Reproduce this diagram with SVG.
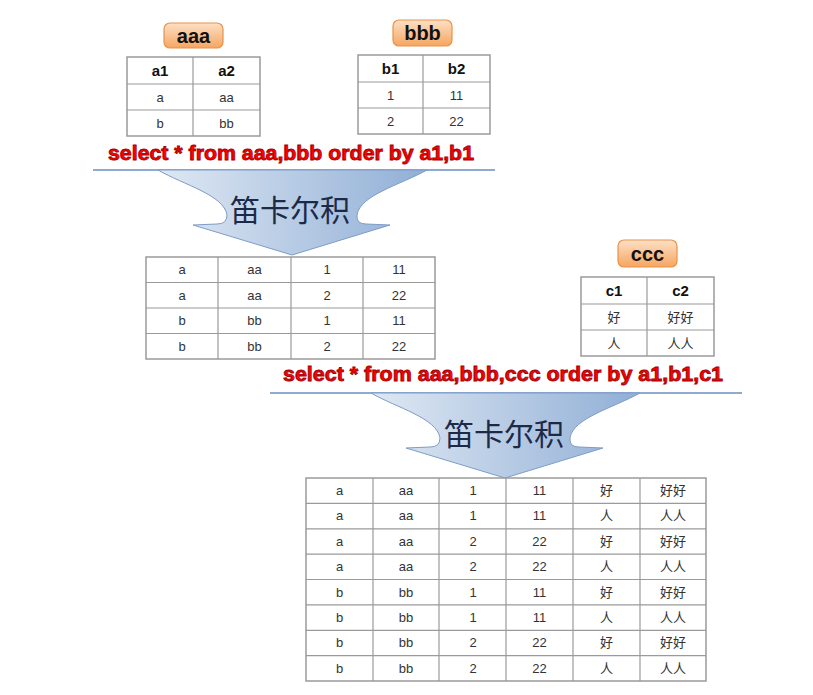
<svg xmlns="http://www.w3.org/2000/svg" width="813" height="695" viewBox="0 0 813 695">
<style>
.tb{fill:#fff;stroke:#9a9a9a;stroke-width:1.5}
.gl{stroke:#9a9a9a;stroke-width:1.2}
.h{font-family:"Liberation Sans",Arial,sans-serif;font-weight:bold;font-size:15px;fill:#111;text-anchor:middle}
.d{font-family:"Liberation Sans",Arial,"Noto Sans CJK SC",sans-serif;font-size:13px;fill:#333;text-anchor:middle}
.lb{fill:url(#og);stroke:#e8924a;stroke-width:1.2}
.lt{font-family:"Liberation Sans",Arial,sans-serif;font-weight:bold;font-size:20px;fill:#111;text-anchor:middle}
.q{font-family:"Liberation Sans",Arial,sans-serif;font-weight:bold;font-size:20px;fill:#ff0000;stroke:#a00000;stroke-width:0.8}
.ln{stroke:#8eaad0;stroke-width:2}
.ar{fill:url(#bg);stroke:#7e9cc6;stroke-width:1}
.ct{font-family:"Noto Sans CJK SC",sans-serif;font-size:30px;fill:#1c2a48;text-anchor:middle}
</style>
<defs>
<linearGradient id="og" x1="0" y1="0" x2="0" y2="1">
<stop offset="0" stop-color="#fde0c6"/><stop offset="1" stop-color="#f6a660"/>
</linearGradient>
<linearGradient id="bg" x1="0" y1="0" x2="1" y2="0">
<stop offset="0" stop-color="#dfe8f3"/><stop offset="1" stop-color="#90afd6"/>
</linearGradient>
<path id="arrow" d="M-134,0 L135,0 C108,15 68,25 65,45 Q64,54 74,54 L98,55 L0,85 L-99,55 L-75,54 Q-65,54 -65,45 C-68,25 -108,15 -134,0 Z"/>
</defs>

<g id="label-aaa"><rect class="lb" x="164" y="23" width="59" height="25" rx="6"/><text class="lt" x="193.5" y="43">aaa</text></g>
<g id="label-bbb"><rect class="lb" x="393" y="20" width="59" height="26" rx="6"/><text class="lt" x="422.5" y="40">bbb</text></g>
<g id="label-ccc"><rect class="lb" x="618" y="240" width="59" height="27" rx="6"/><text class="lt" x="647.5" y="261">ccc</text></g>

<g id="table-aaa">
<rect class="tb" x="127" y="57" width="133" height="79"/>
<line class="gl" x1="193" y1="57" x2="193" y2="136"/>
<line class="gl" x1="127" y1="84" x2="260" y2="84"/>
<line class="gl" x1="127" y1="110" x2="260" y2="110"/>
<text class="h" x="160" y="76">a1</text><text class="h" x="226.5" y="76">a2</text>
<text class="d" x="160" y="101.5">a</text><text class="d" x="226.5" y="101.5">aa</text>
<text class="d" x="160" y="127.5">b</text><text class="d" x="226.5" y="127.5">bb</text>
</g>

<g id="table-bbb">
<rect class="tb" x="358" y="55" width="132" height="79"/>
<line class="gl" x1="423" y1="55" x2="423" y2="134"/>
<line class="gl" x1="358" y1="82" x2="490" y2="82"/>
<line class="gl" x1="358" y1="108" x2="490" y2="108"/>
<text class="h" x="390.5" y="74">b1</text><text class="h" x="456.5" y="74">b2</text>
<text class="d" x="390.5" y="99.5">1</text><text class="d" x="456.5" y="99.5">11</text>
<text class="d" x="390.5" y="125.5">2</text><text class="d" x="456.5" y="125.5">22</text>
</g>

<g id="query-1"><text class="q" x="108" y="160" textLength="366" lengthAdjust="spacingAndGlyphs">select * from aaa,bbb order by a1,b1</text></g>

<g id="table-ccc">
<rect class="tb" x="581" y="277" width="133" height="79"/>
<line class="gl" x1="647" y1="277" x2="647" y2="356"/>
<line class="gl" x1="581" y1="304" x2="714" y2="304"/>
<line class="gl" x1="581" y1="330" x2="714" y2="330"/>
<text class="h" x="614" y="296">c1</text><text class="h" x="680.5" y="296">c2</text>
<text class="d" x="614" y="321.5">好</text><text class="d" x="680.5" y="321.5">好好</text>
<text class="d" x="614" y="347.5">人</text><text class="d" x="680.5" y="347.5">人人</text>
</g>

<g id="query-2"><text class="q" x="283" y="381" textLength="440" lengthAdjust="spacingAndGlyphs">select * from aaa,bbb,ccc order by a1,b1,c1</text></g>

<g id="connectors">
<line class="ln" x1="93" y1="170" x2="495" y2="170"/>
<use href="#arrow" class="ar" transform="translate(292,170)"/>
<line class="ln" x1="270" y1="393" x2="742" y2="393"/>
<use href="#arrow" class="ar" transform="translate(505,393)"/>
</g>
<g id="cartesian-1"><text class="ct" x="290" y="221">笛卡尔积</text></g>
<g id="cartesian-2"><text class="ct" x="504" y="445">笛卡尔积</text></g>

<g id="table-ab">
<rect class="tb" x="146" y="257" width="289" height="102"/>
<line class="gl" x1="218" y1="257" x2="218" y2="359"/>
<line class="gl" x1="291" y1="257" x2="291" y2="359"/>
<line class="gl" x1="363" y1="257" x2="363" y2="359"/>
<line class="gl" x1="146" y1="282.5" x2="435" y2="282.5"/>
<line class="gl" x1="146" y1="308" x2="435" y2="308"/>
<line class="gl" x1="146" y1="333.5" x2="435" y2="333.5"/>
<text class="d" x="182" y="274">a</text><text class="d" x="254.5" y="274">aa</text><text class="d" x="327" y="274">1</text><text class="d" x="399" y="274">11</text>
<text class="d" x="182" y="299.5">a</text><text class="d" x="254.5" y="299.5">aa</text><text class="d" x="327" y="299.5">2</text><text class="d" x="399" y="299.5">22</text>
<text class="d" x="182" y="325">b</text><text class="d" x="254.5" y="325">bb</text><text class="d" x="327" y="325">1</text><text class="d" x="399" y="325">11</text>
<text class="d" x="182" y="350.5">b</text><text class="d" x="254.5" y="350.5">bb</text><text class="d" x="327" y="350.5">2</text><text class="d" x="399" y="350.5">22</text>
</g>

<g id="table-abc">
<rect class="tb" x="306" y="478" width="400" height="203"/>
<line class="gl" x1="373" y1="478" x2="373" y2="681"/>
<line class="gl" x1="439" y1="478" x2="439" y2="681"/>
<line class="gl" x1="506" y1="478" x2="506" y2="681"/>
<line class="gl" x1="573" y1="478" x2="573" y2="681"/>
<line class="gl" x1="640" y1="478" x2="640" y2="681"/>
<line class="gl" x1="306" y1="503.4" x2="706" y2="503.4"/>
<line class="gl" x1="306" y1="528.8" x2="706" y2="528.8"/>
<line class="gl" x1="306" y1="554.1" x2="706" y2="554.1"/>
<line class="gl" x1="306" y1="579.5" x2="706" y2="579.5"/>
<line class="gl" x1="306" y1="604.9" x2="706" y2="604.9"/>
<line class="gl" x1="306" y1="630.3" x2="706" y2="630.3"/>
<line class="gl" x1="306" y1="655.6" x2="706" y2="655.6"/>
<text class="d" x="339.5" y="495">a</text><text class="d" x="406" y="495">aa</text><text class="d" x="473" y="495">1</text><text class="d" x="539.5" y="495">11</text><text class="d" x="606.5" y="495">好</text><text class="d" x="673" y="495">好好</text>
<text class="d" x="339.5" y="520.4">a</text><text class="d" x="406" y="520.4">aa</text><text class="d" x="473" y="520.4">1</text><text class="d" x="539.5" y="520.4">11</text><text class="d" x="606.5" y="520.4">人</text><text class="d" x="673" y="520.4">人人</text>
<text class="d" x="339.5" y="545.8">a</text><text class="d" x="406" y="545.8">aa</text><text class="d" x="473" y="545.8">2</text><text class="d" x="539.5" y="545.8">22</text><text class="d" x="606.5" y="545.8">好</text><text class="d" x="673" y="545.8">好好</text>
<text class="d" x="339.5" y="571.1">a</text><text class="d" x="406" y="571.1">aa</text><text class="d" x="473" y="571.1">2</text><text class="d" x="539.5" y="571.1">22</text><text class="d" x="606.5" y="571.1">人</text><text class="d" x="673" y="571.1">人人</text>
<text class="d" x="339.5" y="596.5">b</text><text class="d" x="406" y="596.5">bb</text><text class="d" x="473" y="596.5">1</text><text class="d" x="539.5" y="596.5">11</text><text class="d" x="606.5" y="596.5">好</text><text class="d" x="673" y="596.5">好好</text>
<text class="d" x="339.5" y="621.9">b</text><text class="d" x="406" y="621.9">bb</text><text class="d" x="473" y="621.9">1</text><text class="d" x="539.5" y="621.9">11</text><text class="d" x="606.5" y="621.9">人</text><text class="d" x="673" y="621.9">人人</text>
<text class="d" x="339.5" y="647.3">b</text><text class="d" x="406" y="647.3">bb</text><text class="d" x="473" y="647.3">2</text><text class="d" x="539.5" y="647.3">22</text><text class="d" x="606.5" y="647.3">好</text><text class="d" x="673" y="647.3">好好</text>
<text class="d" x="339.5" y="672.6">b</text><text class="d" x="406" y="672.6">bb</text><text class="d" x="473" y="672.6">2</text><text class="d" x="539.5" y="672.6">22</text><text class="d" x="606.5" y="672.6">人</text><text class="d" x="673" y="672.6">人人</text>
</g>
</svg>
